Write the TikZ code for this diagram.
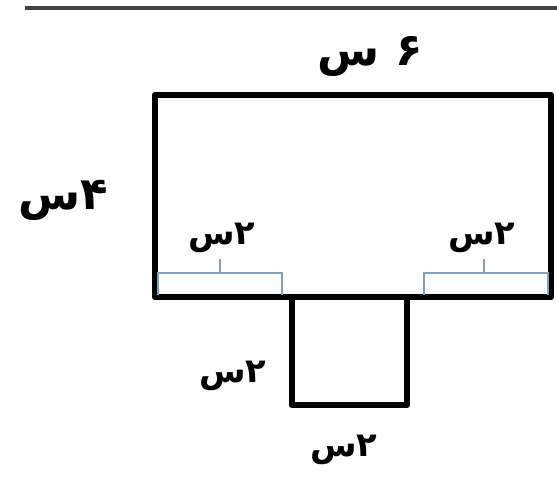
\documentclass[tikz,border=0pt]{standalone}
\usepackage{fontspec}
\usepackage{tikz}
\TeXXeTstate=1
\newfontfamily\arabicfont[Script=Arabic]{DejaVu Sans}
\definecolor{bracecol}{RGB}{125,160,195}

\begin{document}
\begin{tikzpicture}
  [x=0.025cm,y=-0.025cm,
   shape_style/.style={draw=black,line width=4.6pt,line join=round},
   brace_style/.style={draw=bracecol,line width=1.3pt},
   big_label/.style={font=\fontsize{32}{36}\selectfont\arabicfont\bfseries},
   small_label/.style={font=\fontsize{24}{28}\selectfont\arabicfont\bfseries}]
  \useasboundingbox (0,0) rectangle (557,480);
  \draw[black!75,line width=3.5pt] (25,8) -- (557,8);
  % big rectangle and the small square under it
  \draw[shape_style] (155,95) rectangle (551,297);
  \draw[shape_style] (292,297) -- (292,405) -- (407,405) -- (407,297);
  % braces
  \coordinate (b1) at (158,295);
  \coordinate (b2) at (282,295);
  \coordinate (b3) at (424,295);
  \coordinate (b4) at (548,295);
  \draw[brace_style] (b1) |- (220,273) -- (b2 |- 0,273) -- (b2);
  \draw[brace_style] (220,273) -- (220,259);
  \draw[brace_style] (b3) |- (484,273) -- (b4 |- 0,273) -- (b4);
  \draw[brace_style] (484,273) -- (484,259);
  % labels
  \node[big_label] (top) at (370,56) {\beginR ۶ س\endR};
  \node[big_label] (left) at (63,200) {\beginR ۴س\endR};
  \node[small_label] (lb) at (222,238) {\beginR ۲س\endR};
  \node[small_label] (rb) at (482,238) {\beginR ۲س\endR};
  \node[small_label] (sl) at (233,376) {\beginR ۲س\endR};
  \node[small_label] (sb) at (344,450) {\beginR ۲س\endR};
\end{tikzpicture}
\end{document}
